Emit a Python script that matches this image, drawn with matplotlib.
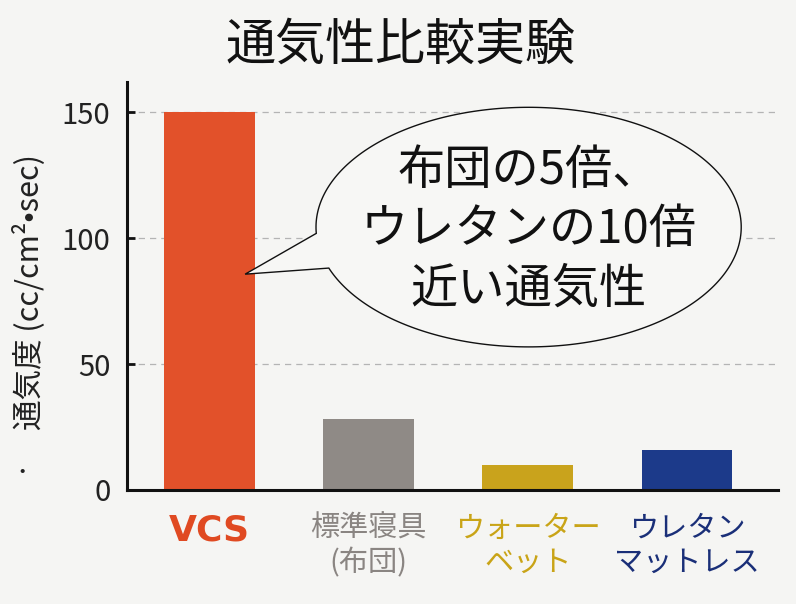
import numpy as np
import matplotlib
matplotlib.use("Agg")
import matplotlib.pyplot as plt
from matplotlib.path import Path
from matplotlib.patches import PathPatch

plt.rcParams['font.family'] = ['Noto Sans CJK JP', 'DejaVu Sans']

categories = ["VCS", "標準寝具\n(布団)", "ウォーター\nベット", "ウレタン\nマットレス"]
values = [150, 28, 10, 16]
bar_colors = ["#e2512a", "#8f8a86", "#c9a31c", "#1c3a8a"]
label_colors = ["#e04a22", "#8a8582", "#c9a417", "#1a2f78"]
yticks = [0, 50, 100, 150]
title = "通気性比較実験"
ylabel = "通気度 (cc/cm²•sec)"
bubble_lines = "布団の5倍、\nウレタンの10倍\n近い通気性"

bg = "#f5f5f3"
fig = plt.figure(figsize=(7.96, 6.04), dpi=100, facecolor=bg)
ax = fig.add_axes([0.1595, 0.189, 0.8175, 0.675], facecolor=bg)

x = np.arange(len(values))
ax.bar(x, values, width=0.57, color=bar_colors, zorder=2)

ax.set_xlim(-0.516, 3.57)
ax.set_ylim(0, 162)
ax.set_yticks(yticks)
ax.set_yticklabels([str(t) for t in yticks], fontsize=21, color="#222222")
ax.tick_params(axis='y', direction='in', length=6, width=2, pad=12, color="#111111")
ax.set_xticks(x)
ax.set_xticklabels(categories, fontsize=21, linespacing=1.2)
ax.tick_params(axis='x', length=0, pad=17)
for lbl, c in zip(ax.get_xticklabels(), label_colors):
    lbl.set_color(c)
lbl0 = ax.get_xticklabels()[0]
lbl0.set_fontsize(26)
lbl0.set_fontweight('bold')
lbl0.set_family(['DejaVu Sans'])

for s in ['top', 'right']:
    ax.spines[s].set_visible(False)
for s in ['left', 'bottom']:
    ax.spines[s].set_linewidth(2.2)
    ax.spines[s].set_color("#111111")

for t in yticks[1:]:
    ax.axhline(t, color="#b4b4b4", lw=0.9, linestyle=(0, (5, 4)), zorder=1)

# speech bubble (ellipse + tail) in data coordinates
cx, cy, a, b = 2.006, 104.4, 1.335, 47.6
t1, t2 = np.deg2rad(200), np.deg2rad(183)
ts = np.linspace(t1, t2 + 2 * np.pi, 300)
verts = [(cx + a * np.cos(t), cy + b * np.sin(t)) for t in ts]
verts.append((0.226, 85.7))
verts.append(verts[0])
codes = [Path.MOVETO] + [Path.LINETO] * (len(verts) - 2) + [Path.CLOSEPOLY]
bubble = PathPatch(Path(verts, codes), facecolor="#f7f7f5", edgecolor="#111111", lw=1.0, zorder=3)
ax.add_patch(bubble)
ax.text(cx, 103.2, bubble_lines, ha='center', va='center', fontsize=34,
        linespacing=1.3, color="#111111", zorder=4)

fig.text(0.503, 0.924, title, ha='center', va='center', fontsize=36, color="#111111")
fig.text(0.036, 0.517, ylabel, rotation=90, ha='center', va='center', fontsize=22, color="#222222")
fig.text(0.028, 0.217, "・", ha='center', va='center', fontsize=14, color="#222222")

fig.savefig("out.png", dpi=100, facecolor=bg)
